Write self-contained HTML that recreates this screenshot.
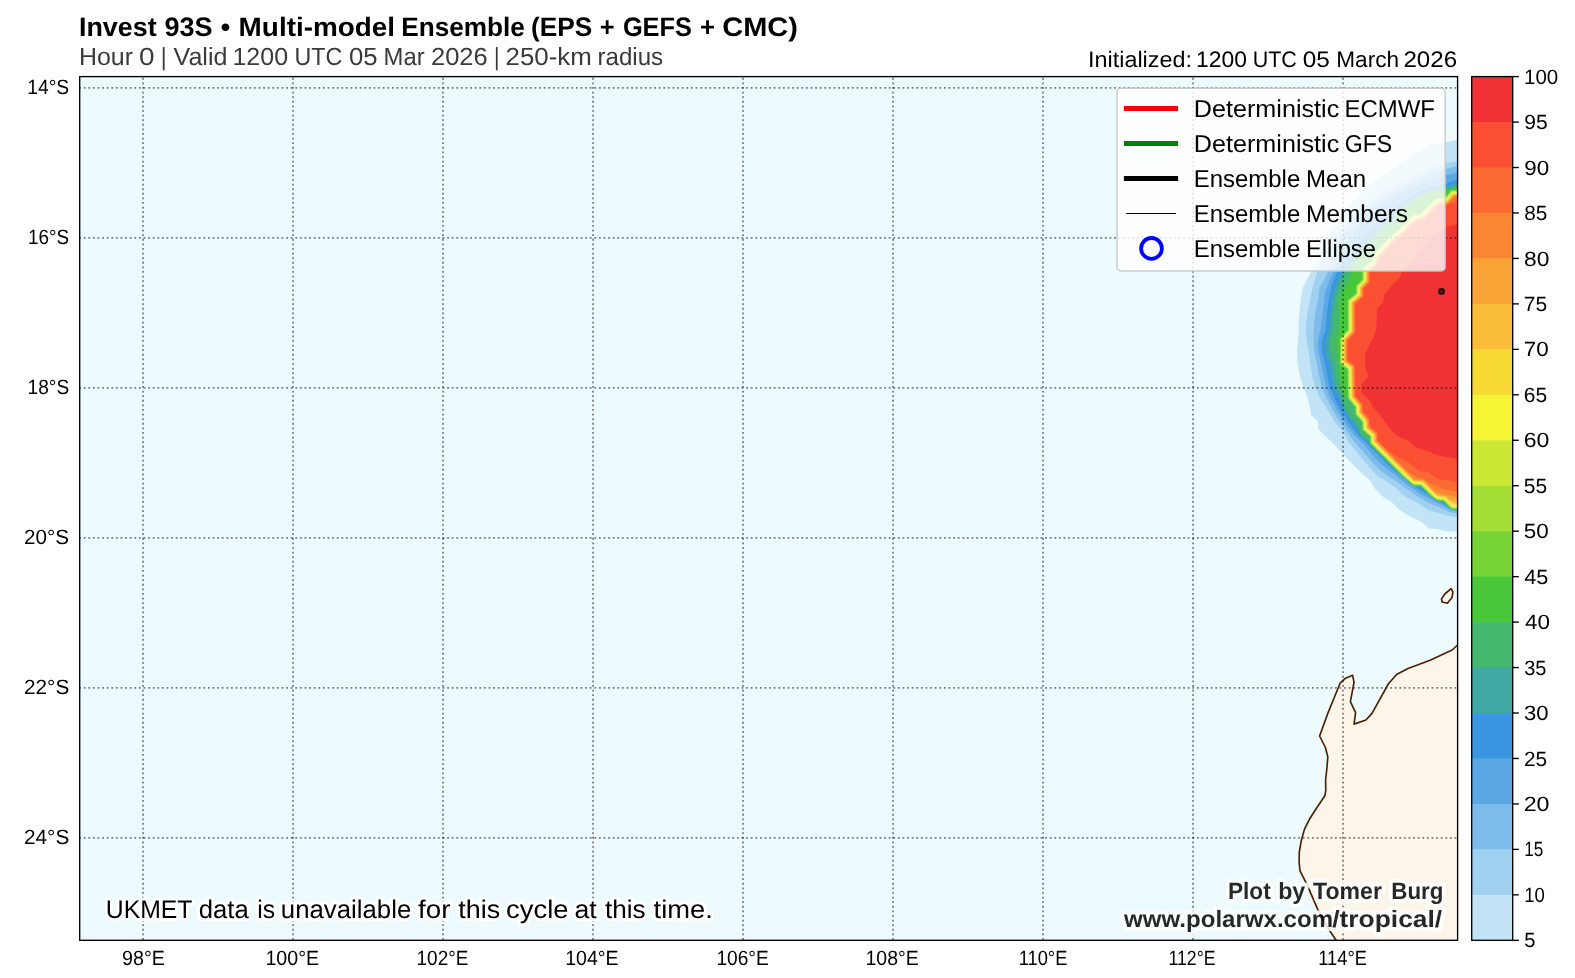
<!DOCTYPE html>
<html lang="en"><head><meta charset="utf-8"><title>Invest 93S Multi-model Ensemble</title>
<style>html,body{margin:0;padding:0;background:#fff;}body{width:1575px;height:978px;overflow:hidden;font-family:"Liberation Sans",sans-serif;}svg text{font-family:"Liberation Sans",sans-serif;}</style></head>
<body>
<svg width="1575" height="978" viewBox="0 0 1575 978" style="display:block">
<defs>
<clipPath id="mapclip"><rect x="79.7" y="76.6" width="1377.9" height="863.7"/></clipPath>
<mask id="allmask" maskUnits="userSpaceOnUse" x="0" y="0" width="1575" height="978"><rect x="0" y="0" width="1575" height="978" fill="#fff"/></mask>
</defs>
<rect x="0" y="0" width="1575" height="978" fill="#ffffff"/>
<g clip-path="url(#mapclip)">
<rect x="79.7" y="76.6" width="1377.9" height="863.7" fill="#edfafe"/>
<path d="M1475.0,640.0L1457.1,645.5L1452.1,650.0L1430.1,660.3L1408.0,668.4L1396.5,674.5L1388.3,684.0L1372.0,713.4L1365.9,720.0L1354.0,724.1L1355.6,712.6L1350.4,701.7L1354.0,682.4L1352.7,675.3L1345.0,678.6L1340.1,683.2L1327.8,713.4L1319.6,736.0L1325.4,747.5L1327.8,756.8L1327.0,767.4L1325.6,780.0L1325.8,789.8L1325.0,795.5L1316.8,807.8L1309.4,819.3L1304.5,829.1L1301.3,840.5L1299.3,852.0L1299.1,861.8L1300.0,870.8L1307.0,884.7L1317.6,909.2L1327.4,927.2L1335.6,939.5L1340.0,947.0L1475.0,947.0Z" fill="#fcf5e9" stroke="#4b2103" stroke-width="1.65" stroke-linejoin="round"/>
<path d="M1451.1,588.7L1452.9,591.8L1452.1,597.3L1447.4,603.2L1442.1,602.0L1441.5,598.9L1444.8,594.0Z" fill="#fcf5e9" stroke="#4b2103" stroke-width="1.65" stroke-linejoin="round"/>
<g shape-rendering="geometricPrecision">
<path d="M1470.0,138.0L1457.5,139.7L1445.0,142.5L1429.0,145.0L1413.0,154.0L1396.0,166.0L1372.0,183.0L1352.0,202.0L1333.0,227.0L1321.5,245.5L1310.4,272.9L1303.0,287.5L1300.8,298.7L1298.6,321.2L1298.6,330.0L1298.0,341.2L1296.9,352.5L1297.4,363.7L1299.7,375.0L1303.1,386.2L1307.6,397.5L1310.6,410.0L1311.0,414.9L1318.0,421.5L1318.4,429.6L1330.0,440.6L1343.0,453.6L1350.0,461.5L1361.2,472.7L1370.2,480.6L1374.7,488.5L1383.7,497.5L1391.6,502.0L1399.5,509.9L1408.5,515.5L1422.0,522.2L1428.7,528.4L1437.7,529.0L1445.6,531.2L1457.5,531.8L1470.0,532.0Z" fill="#c3e3f7"/>
<path d="M1470.0,160.0L1457.5,161.0L1445.4,163.3L1428.7,168.4L1406.0,178.5L1383.7,192.0L1361.0,208.9L1350.0,217.9L1335.0,237.0L1324.0,255.0L1317.1,272.9L1312.6,287.5L1307.0,315.6L1305.6,330.0L1307.0,341.2L1308.7,352.5L1310.4,363.7L1312.1,375.0L1314.9,386.2L1319.9,397.5L1327.8,410.0L1332.7,418.2L1336.0,423.9L1342.5,430.4L1349.1,442.7L1357.3,452.5L1365.4,462.4L1373.6,472.2L1380.0,477.9L1383.7,479.5L1395.0,487.4L1406.2,497.5L1417.5,503.1L1428.7,510.4L1440.0,513.2L1451.2,516.6L1457.5,517.2L1470.0,517.5Z" fill="#a0d1f1"/>
<path d="M1470.0,165.5L1457.5,166.0L1445.4,169.0L1428.7,174.0L1406.0,184.5L1383.7,198.0L1361.0,215.0L1345.0,232.0L1335.0,250.0L1327.2,272.9L1322.7,283.0L1319.4,287.5L1318.2,298.7L1314.9,315.6L1313.7,330.0L1313.7,341.2L1314.3,352.5L1317.1,363.7L1318.8,375.0L1321.6,386.2L1326.1,397.5L1332.7,410.0L1338.4,419.8L1344.2,427.2L1350.7,437.0L1357.3,445.2L1365.4,454.2L1373.6,464.0L1380.0,470.5L1390.0,477.2L1395.0,480.6L1406.2,488.5L1417.5,496.4L1428.7,503.1L1440.0,507.6L1451.2,512.7L1457.5,513.8L1470.0,514.0Z" fill="#7dbcea"/>
<path d="M1470.0,172.5L1457.5,172.9L1445.4,175.0L1428.7,180.7L1406.0,191.0L1383.7,205.0L1363.0,222.0L1349.0,240.0L1340.0,256.0L1332.9,272.9L1328.4,283.0L1325.0,293.1L1323.3,310.0L1320.5,330.0L1317.7,341.2L1318.8,352.5L1321.1,363.7L1323.3,375.0L1326.1,386.2L1330.1,397.5L1336.8,410.0L1342.5,419.0L1347.4,426.4L1354.0,434.5L1362.2,442.7L1370.3,452.5L1380.0,463.2L1383.5,466.0L1395.0,475.0L1406.2,484.0L1417.5,491.9L1428.7,498.6L1440.0,504.2L1451.2,509.9L1457.5,511.6L1470.0,512.0Z" fill="#5ba8e4"/>
<path d="M1470.0,179.3L1457.5,179.6L1445.4,184.0L1428.7,187.5L1413.0,195.0L1398.0,206.0L1383.0,219.0L1367.0,234.0L1353.0,250.0L1343.0,264.0L1336.8,272.9L1331.7,285.2L1328.9,298.7L1326.7,315.6L1325.5,330.0L1321.6,341.2L1322.2,352.5L1325.0,363.7L1327.2,375.0L1329.5,386.2L1334.0,397.5L1340.1,410.0L1344.2,414.9L1348.3,422.3L1356.4,432.9L1365.4,441.9L1373.6,450.1L1380.0,456.6L1384.0,460.5L1390.0,467.1L1395.0,470.5L1406.2,479.5L1417.5,488.5L1428.7,495.2L1440.0,502.0L1451.2,508.7L1457.5,510.1L1470.0,510.4Z" fill="#3a96e0"/>
<path d="M1445.4,186.4L1428.7,190.3L1413.0,198.0L1398.0,209.5L1384.0,222.0L1369.0,237.0L1356.0,252.0L1347.0,265.0L1341.3,272.9L1336.2,285.2L1332.9,296.5L1330.0,315.6L1329.0,330.0L1325.6,341.2L1325.6,352.5L1329.5,363.7L1331.7,375.0L1333.4,386.2L1339.0,397.5L1344.2,410.0L1349.1,418.2L1357.3,429.6L1360.5,435.4L1368.7,442.7L1369.0,443.0L1369.0,443.8L1398.3,473.2L1406.2,479.5L1415.0,486.5L1420.5,486.8L1428.9,495.3L1439.7,501.8L1443.0,502.0L1447.3,506.4L1451.2,508.7L1457.5,510.1L1470.0,510.4L1470.0,188.9L1470.0,182.8L1457.5,183.0Z" fill="#3fa8a2"/>
<path d="M1445.4,189.7L1428.7,192.0L1413.0,200.0L1398.5,211.5L1386.0,224.0L1372.0,239.0L1359.5,254.0L1350.5,266.5L1345.2,272.9L1339.6,285.2L1336.2,296.5L1333.4,315.6L1332.9,330.0L1329.5,341.2L1330.0,352.5L1334.0,363.7L1335.7,375.0L1337.4,386.2L1342.4,397.5L1346.6,410.0L1351.5,416.5L1358.9,426.4L1360.5,433.7L1369.4,440.4L1369.4,443.7L1401.2,475.5L1406.2,479.5L1414.5,486.1L1420.6,486.4L1430.3,496.2L1438.9,501.4L1443.1,501.6L1448.8,507.2L1451.2,508.7L1457.5,510.1L1470.0,510.1L1470.0,189.3L1470.0,188.9L1470.0,186.2L1457.5,186.4Z" fill="#45b870"/>
<path d="M1445.4,191.0L1428.7,193.1L1413.0,202.0L1399.5,213.4L1398.4,220.0L1395.0,223.4L1378.1,239.1L1364.6,253.7L1354.0,265.0L1352.0,272.9L1347.5,284.0L1341.0,294.0L1339.3,305.0L1339.0,330.0L1336.2,341.2L1337.4,352.5L1338.5,363.7L1339.6,375.0L1341.3,386.2L1346.0,398.0L1348.8,399.9L1353.7,405.9L1354.5,408.0L1354.9,409.1L1354.9,414.2L1361.8,422.2L1362.3,430.3L1369.8,436.8L1369.8,443.5L1404.1,477.8L1406.2,479.5L1413.9,485.7L1420.8,486.0L1431.7,497.0L1438.2,500.9L1443.3,501.2L1450.2,508.1L1451.2,508.7L1454.4,509.4L1457.4,509.7L1470.0,509.7L1470.0,189.7L1470.0,189.3L1470.0,188.9L1470.0,187.2L1457.5,187.5Z" fill="#48c73a"/>
<path d="M1445.1,197.5L1435.9,198.2L1427.1,206.3L1420.4,213.4L1413.0,214.8L1405.4,221.9L1399.1,228.6L1388.7,237.8L1381.4,245.5L1373.9,253.7L1371.8,260.7L1364.0,266.9L1362.4,270.5L1362.4,279.4L1356.2,285.9L1356.2,293.2L1347.7,300.5L1348.0,329.6L1344.8,333.0L1340.2,338.2L1340.2,363.7L1347.5,369.3L1348.1,398.3L1355.4,407.3L1355.4,414.0L1362.3,422.0L1362.8,430.1L1370.3,436.6L1370.3,443.3L1404.4,477.4L1406.5,479.1L1414.1,485.2L1421.0,485.5L1432.0,496.6L1438.3,500.4L1443.5,500.7L1450.5,507.7L1451.4,508.2L1454.5,508.9L1457.4,509.2L1469.5,509.2L1469.5,190.2L1451.4,190.2Z" fill="#8cda54"/>
<path d="M1451.7,190.9L1445.5,198.2L1436.2,198.8L1427.5,206.8L1420.7,214.0L1413.3,215.4L1405.9,222.4L1399.6,229.1L1389.2,238.3L1381.9,246.0L1374.6,254.0L1372.4,261.1L1364.6,267.4L1363.1,270.7L1363.1,279.7L1356.9,286.2L1356.9,293.5L1348.4,300.8L1348.7,329.9L1345.3,333.5L1340.9,338.4L1340.9,363.3L1348.2,369.0L1348.8,398.0L1356.1,407.0L1356.1,413.8L1362.9,421.7L1363.4,429.7L1371.0,436.3L1371.0,443.0L1406.8,478.9L1413.9,484.5L1421.3,484.9L1433.3,496.9L1437.9,499.7L1443.8,500.1L1451.7,507.9L1452.1,508.0L1457.4,508.5L1469.1,508.5L1469.1,190.9Z" fill="#b2e453"/>
<path d="M1452.0,191.6L1445.8,198.8L1436.5,199.5L1428.0,207.3L1421.1,214.7L1413.6,216.1L1406.4,222.9L1400.0,229.6L1389.6,238.8L1382.4,246.5L1375.2,254.4L1373.0,261.5L1365.1,267.8L1363.8,270.8L1363.8,280.0L1357.6,286.5L1357.6,293.8L1349.1,301.1L1349.4,330.2L1345.8,334.0L1341.6,338.7L1341.6,363.0L1348.9,368.6L1349.5,397.8L1356.8,406.8L1356.8,413.5L1363.6,421.4L1364.1,429.4L1371.7,436.0L1371.7,442.7L1409.2,480.2L1413.6,483.7L1421.6,484.2L1434.6,497.3L1437.5,499.0L1444.1,499.4L1452.0,507.3L1457.5,507.8L1468.7,507.8L1468.7,191.6Z" fill="#d4eb52"/>
<path d="M1452.4,192.4L1446.2,199.6L1436.8,200.3L1428.6,207.9L1421.5,215.4L1414.0,216.8L1407.0,223.5L1400.6,230.2L1390.2,239.4L1383.0,247.0L1375.9,254.8L1373.7,262.0L1365.8,268.3L1364.6,271.0L1364.6,280.3L1358.4,286.8L1358.4,294.2L1349.9,301.5L1350.2,330.5L1346.4,334.5L1342.4,339.0L1342.4,362.6L1349.7,368.2L1350.3,397.5L1357.6,406.5L1357.6,413.2L1364.4,421.1L1364.9,429.0L1372.5,435.6L1372.5,442.4L1412.2,482.1L1413.2,482.9L1422.0,483.4L1436.3,497.8L1436.8,498.1L1444.5,498.6L1452.4,506.5L1457.5,507.0L1468.3,507.0L1468.3,192.4Z" fill="#f6f654"/>
<path d="M1469.2,193.2L1452.8,193.2L1446.6,200.4L1437.1,201.1L1429.2,208.5L1421.9,216.1L1414.4,217.5L1407.6,224.1L1401.2,230.8L1390.8,240.0L1383.6,247.5L1376.6,255.2L1374.4,262.5L1366.5,268.8L1365.4,271.2L1365.4,280.6L1359.2,287.1L1359.2,294.6L1350.7,301.9L1351.0,330.8L1347.0,335.0L1343.2,339.3L1343.2,362.2L1350.5,367.8L1351.1,397.2L1358.4,406.2L1358.4,412.9L1365.2,420.8L1365.7,428.6L1373.3,435.2L1373.3,442.1L1413.3,482.1L1422.4,482.6L1437.0,497.3L1444.9,497.8L1452.8,505.7L1457.5,506.2L1469.2,506.2Z" fill="#f7df53"/>
<path d="M1453.2,194.1L1447.0,201.2L1437.5,202.0L1429.8,209.1L1422.4,217.0L1414.8,218.4L1408.2,224.7L1401.8,231.4L1391.4,240.6L1384.2,248.2L1377.4,255.7L1375.2,263.0L1367.2,269.4L1366.3,271.4L1366.3,281.0L1360.1,287.5L1360.1,295.0L1351.6,302.3L1351.9,331.2L1347.7,335.7L1344.1,339.6L1344.1,361.8L1351.4,367.3L1352.0,396.9L1359.3,405.9L1359.3,412.6L1366.1,420.4L1366.6,428.2L1374.2,434.8L1374.2,441.7L1413.7,481.2L1422.7,481.7L1435.9,495.0L1438.0,495.0L1440.3,496.6L1445.2,496.9L1451.0,502.7L1457.5,504.2L1468.3,504.2L1468.3,194.1Z" fill="#f9bd37"/>
<path d="M1453.6,195.0L1447.5,202.1L1437.9,202.8L1430.4,209.7L1422.8,217.8L1415.2,219.2L1408.8,225.3L1402.4,232.1L1392.0,241.3L1384.9,248.8L1378.2,256.1L1376.0,263.5L1367.9,269.9L1367.2,271.6L1367.2,281.3L1361.0,287.8L1361.0,295.4L1352.5,302.7L1352.8,331.5L1348.3,336.3L1345.0,340.0L1345.0,361.3L1352.3,366.9L1352.9,396.6L1360.2,405.6L1360.2,412.2L1366.9,420.1L1367.4,427.8L1375.1,434.4L1375.1,441.3L1414.1,480.4L1423.1,480.9L1437.5,495.3L1438.2,495.6L1445.6,496.1L1448.8,499.2L1457.5,502.0L1467.4,502.0L1467.4,195.0Z" fill="#f9a236"/>
<path d="M1454.0,195.9L1447.9,203.0L1438.3,203.7L1431.1,210.4L1423.3,218.6L1415.7,220.0L1409.5,226.0L1403.0,232.7L1392.6,241.9L1385.6,249.4L1379.0,256.6L1376.7,264.1L1368.7,270.5L1368.1,271.7L1368.1,281.7L1361.9,288.2L1361.9,295.8L1353.4,303.1L1353.7,331.9L1349.0,336.9L1345.9,340.3L1345.9,360.9L1353.2,366.4L1353.8,396.2L1361.1,405.3L1361.1,411.9L1367.8,419.7L1368.3,427.3L1376.0,434.0L1376.0,441.0L1414.3,479.3L1414.6,479.5L1423.5,480.0L1434.7,491.2L1444.5,494.7L1457.5,497.5L1466.5,497.5L1466.5,195.9Z" fill="#fa8633"/>
<path d="M1454.4,196.8L1448.3,203.9L1438.7,204.6L1431.7,211.0L1423.7,219.5L1416.1,220.9L1410.1,226.6L1403.7,233.4L1393.3,242.6L1386.2,250.0L1379.8,257.0L1377.5,264.6L1369.4,271.1L1369.0,271.9L1369.0,282.1L1362.8,288.6L1362.8,296.2L1354.3,303.5L1354.6,332.2L1349.6,337.5L1346.8,340.7L1346.8,360.4L1354.1,366.0L1354.7,395.9L1362.0,404.9L1362.0,411.6L1368.7,419.3L1369.2,426.9L1376.9,433.6L1376.9,440.6L1409.1,472.8L1410.7,473.9L1420.8,478.9L1423.9,479.1L1426.6,481.8L1433.2,485.1L1444.5,489.6L1457.5,491.9L1465.6,491.9L1465.6,196.8Z" fill="#fb6a33"/>
<path d="M1448.8,204.7L1439.0,205.4L1432.3,211.7L1424.2,220.3L1416.5,221.7L1410.8,227.2L1404.3,234.0L1393.9,243.2L1386.9,250.6L1380.6,257.5L1378.3,265.1L1370.1,271.6L1369.9,272.1L1369.9,282.4L1363.7,288.9L1363.7,296.6L1355.2,303.9L1355.5,332.6L1350.3,338.1L1347.7,341.0L1347.7,360.0L1354.9,365.5L1355.6,395.6L1362.9,404.6L1362.9,411.2L1369.6,419.0L1370.0,426.5L1377.8,433.2L1377.8,440.2L1389.0,451.4L1399.5,458.1L1408.5,462.6L1419.7,471.6L1428.7,472.2L1437.7,478.9L1449.0,480.6L1457.5,482.9L1464.7,482.9L1464.7,203.0L1457.5,203.0L1449.7,203.6Z" fill="#fb4f34"/>
<path d="M1457.5,224.6L1445.4,226.9L1443.4,227.9L1428.7,240.2L1417.5,252.6L1410.7,262.7L1404.0,269.5L1401.7,272.3L1400.0,277.4L1392.7,284.7L1384.3,294.2L1383.2,302.1L1377.0,308.9L1376.1,330.0L1373.6,336.7L1368.0,348.0L1365.2,353.6L1365.2,367.1L1366.9,372.7L1368.6,376.1L1361.8,384.0L1361.2,392.4L1370.2,400.9L1372.5,406.5L1378.7,413.2L1383.7,420.0L1389.4,427.9L1397.2,435.7L1402.9,438.5L1407.4,440.1L1415.2,446.9L1428.7,451.4L1440.0,455.9L1457.5,458.7L1464.7,458.9L1464.7,224.5Z" fill="#f03235"/>
</g>
<line x1="143.05" y1="76.6" x2="143.05" y2="940.3" stroke="#000" stroke-opacity="0.5" stroke-width="1.8" stroke-dasharray="1.8 2.8" fill="none" stroke-dashoffset="-1.25"/>
<line x1="293.05" y1="76.6" x2="293.05" y2="940.3" stroke="#000" stroke-opacity="0.5" stroke-width="1.8" stroke-dasharray="1.8 2.8" fill="none" stroke-dashoffset="-1.25"/>
<line x1="443.05" y1="76.6" x2="443.05" y2="940.3" stroke="#000" stroke-opacity="0.5" stroke-width="1.8" stroke-dasharray="1.8 2.8" fill="none" stroke-dashoffset="-1.25"/>
<line x1="593.05" y1="76.6" x2="593.05" y2="940.3" stroke="#000" stroke-opacity="0.5" stroke-width="1.8" stroke-dasharray="1.8 2.8" fill="none" stroke-dashoffset="-1.25"/>
<line x1="743.05" y1="76.6" x2="743.05" y2="940.3" stroke="#000" stroke-opacity="0.5" stroke-width="1.8" stroke-dasharray="1.8 2.8" fill="none" stroke-dashoffset="-1.25"/>
<line x1="893.05" y1="76.6" x2="893.05" y2="940.3" stroke="#000" stroke-opacity="0.5" stroke-width="1.8" stroke-dasharray="1.8 2.8" fill="none" stroke-dashoffset="-1.25"/>
<line x1="1043.05" y1="76.6" x2="1043.05" y2="940.3" stroke="#000" stroke-opacity="0.5" stroke-width="1.8" stroke-dasharray="1.8 2.8" fill="none" stroke-dashoffset="-1.25"/>
<line x1="1193.05" y1="76.6" x2="1193.05" y2="940.3" stroke="#000" stroke-opacity="0.5" stroke-width="1.8" stroke-dasharray="1.8 2.8" fill="none" stroke-dashoffset="-1.25"/>
<line x1="1343.05" y1="76.6" x2="1343.05" y2="940.3" stroke="#000" stroke-opacity="0.5" stroke-width="1.8" stroke-dasharray="1.8 2.8" fill="none" stroke-dashoffset="-1.25"/>
<line x1="79.7" y1="87.90" x2="1457.6" y2="87.90" stroke="#000" stroke-opacity="0.5" stroke-width="1.8" stroke-dasharray="1.8 2.8" fill="none" stroke-dashoffset="0.55"/>
<line x1="79.7" y1="237.90" x2="1457.6" y2="237.90" stroke="#000" stroke-opacity="0.5" stroke-width="1.8" stroke-dasharray="1.8 2.8" fill="none" stroke-dashoffset="0.55"/>
<line x1="79.7" y1="387.90" x2="1457.6" y2="387.90" stroke="#000" stroke-opacity="0.5" stroke-width="1.8" stroke-dasharray="1.8 2.8" fill="none" stroke-dashoffset="0.55"/>
<line x1="79.7" y1="537.90" x2="1457.6" y2="537.90" stroke="#000" stroke-opacity="0.5" stroke-width="1.8" stroke-dasharray="1.8 2.8" fill="none" stroke-dashoffset="0.55"/>
<line x1="79.7" y1="687.90" x2="1457.6" y2="687.90" stroke="#000" stroke-opacity="0.5" stroke-width="1.8" stroke-dasharray="1.8 2.8" fill="none" stroke-dashoffset="0.55"/>
<line x1="79.7" y1="837.90" x2="1457.6" y2="837.90" stroke="#000" stroke-opacity="0.5" stroke-width="1.8" stroke-dasharray="1.8 2.8" fill="none" stroke-dashoffset="0.55"/>
<circle cx="1441.5" cy="291.4" r="2.6" fill="#000" fill-opacity="0.57" stroke="#000" stroke-opacity="0.8" stroke-width="1.7"/>
</g>
<rect x="1117.0" y="88.2" width="328.2" height="182.7" rx="4" ry="4" fill="#ffffff" fill-opacity="0.8" stroke="#c8c8c8" stroke-opacity="0.92" stroke-width="1.5"/>
<line x1="1123.9" y1="108.4" x2="1178.1" y2="108.4" stroke="#ff0000" stroke-width="5"/>
<line x1="1123.9" y1="143.6" x2="1178.1" y2="143.6" stroke="#008000" stroke-width="5"/>
<line x1="1123.9" y1="178.6" x2="1178.1" y2="178.6" stroke="#000000" stroke-width="5"/>
<line x1="1126" y1="213.5" x2="1176" y2="213.5" stroke="#000000" stroke-width="1.1"/>
<line x1="1124" y1="248.4" x2="1178" y2="248.4" stroke="#ffffff" stroke-width="1.5"/>
<circle cx="1151.5" cy="248.4" r="10.4" fill="#ffffff" stroke="#0000ff" stroke-width="3.8"/>
<rect x="79.7" y="76.6" width="1377.9" height="863.7" fill="none" stroke="#000" stroke-width="1.35"/>
<rect x="1471.7" y="76.60" width="41.0" height="45.96" fill="#f03235"/>
<rect x="1471.7" y="122.06" width="41.0" height="45.96" fill="#fb4f34"/>
<rect x="1471.7" y="167.52" width="41.0" height="45.96" fill="#fb6a33"/>
<rect x="1471.7" y="212.97" width="41.0" height="45.96" fill="#fa8633"/>
<rect x="1471.7" y="258.43" width="41.0" height="45.96" fill="#f9a236"/>
<rect x="1471.7" y="303.89" width="41.0" height="45.96" fill="#f9bd37"/>
<rect x="1471.7" y="349.35" width="41.0" height="45.96" fill="#f6d935"/>
<rect x="1471.7" y="394.81" width="41.0" height="45.96" fill="#f5f536"/>
<rect x="1471.7" y="440.26" width="41.0" height="45.96" fill="#cce834"/>
<rect x="1471.7" y="485.72" width="41.0" height="45.96" fill="#a5df35"/>
<rect x="1471.7" y="531.18" width="41.0" height="45.96" fill="#78d336"/>
<rect x="1471.7" y="576.64" width="41.0" height="45.96" fill="#48c73a"/>
<rect x="1471.7" y="622.09" width="41.0" height="45.96" fill="#45b870"/>
<rect x="1471.7" y="667.55" width="41.0" height="45.96" fill="#3fa8a2"/>
<rect x="1471.7" y="713.01" width="41.0" height="45.96" fill="#3a96e0"/>
<rect x="1471.7" y="758.47" width="41.0" height="45.96" fill="#5ba8e4"/>
<rect x="1471.7" y="803.93" width="41.0" height="45.96" fill="#7dbcea"/>
<rect x="1471.7" y="849.38" width="41.0" height="45.96" fill="#a0d1f1"/>
<rect x="1471.7" y="894.84" width="41.0" height="45.96" fill="#c3e3f7"/>
<rect x="1471.7" y="76.6" width="41.0" height="863.7" fill="none" stroke="#000" stroke-width="1.35"/>
<line x1="1512.7" y1="76.60" x2="1518.9" y2="76.60" stroke="#000" stroke-width="1.35"/>
<line x1="1512.7" y1="122.06" x2="1518.9" y2="122.06" stroke="#000" stroke-width="1.35"/>
<line x1="1512.7" y1="167.52" x2="1518.9" y2="167.52" stroke="#000" stroke-width="1.35"/>
<line x1="1512.7" y1="212.97" x2="1518.9" y2="212.97" stroke="#000" stroke-width="1.35"/>
<line x1="1512.7" y1="258.43" x2="1518.9" y2="258.43" stroke="#000" stroke-width="1.35"/>
<line x1="1512.7" y1="303.89" x2="1518.9" y2="303.89" stroke="#000" stroke-width="1.35"/>
<line x1="1512.7" y1="349.35" x2="1518.9" y2="349.35" stroke="#000" stroke-width="1.35"/>
<line x1="1512.7" y1="394.81" x2="1518.9" y2="394.81" stroke="#000" stroke-width="1.35"/>
<line x1="1512.7" y1="440.26" x2="1518.9" y2="440.26" stroke="#000" stroke-width="1.35"/>
<line x1="1512.7" y1="485.72" x2="1518.9" y2="485.72" stroke="#000" stroke-width="1.35"/>
<line x1="1512.7" y1="531.18" x2="1518.9" y2="531.18" stroke="#000" stroke-width="1.35"/>
<line x1="1512.7" y1="576.64" x2="1518.9" y2="576.64" stroke="#000" stroke-width="1.35"/>
<line x1="1512.7" y1="622.09" x2="1518.9" y2="622.09" stroke="#000" stroke-width="1.35"/>
<line x1="1512.7" y1="667.55" x2="1518.9" y2="667.55" stroke="#000" stroke-width="1.35"/>
<line x1="1512.7" y1="713.01" x2="1518.9" y2="713.01" stroke="#000" stroke-width="1.35"/>
<line x1="1512.7" y1="758.47" x2="1518.9" y2="758.47" stroke="#000" stroke-width="1.35"/>
<line x1="1512.7" y1="803.93" x2="1518.9" y2="803.93" stroke="#000" stroke-width="1.35"/>
<line x1="1512.7" y1="849.38" x2="1518.9" y2="849.38" stroke="#000" stroke-width="1.35"/>
<line x1="1512.7" y1="894.84" x2="1518.9" y2="894.84" stroke="#000" stroke-width="1.35"/>
<line x1="1512.7" y1="940.30" x2="1518.9" y2="940.30" stroke="#000" stroke-width="1.35"/>
<g font-family="'Liberation Sans', sans-serif" text-rendering="geometricPrecision" mask="url(#allmask)">
<text x="79.00" y="35.60" font-size="26.7" font-weight="bold" textLength="77.63" lengthAdjust="spacingAndGlyphs" fill="#000">Invest</text><text x="164.46" y="35.60" font-size="26.7" font-weight="bold" textLength="48.09" lengthAdjust="spacingAndGlyphs" fill="#000">93S</text><text x="220.85" y="35.60" font-size="26.7" font-weight="bold" textLength="9.40" lengthAdjust="spacingAndGlyphs" fill="#000">•</text><text x="238.63" y="35.60" font-size="26.7" font-weight="bold" textLength="156.46" lengthAdjust="spacingAndGlyphs" fill="#000">Multi-model</text><text x="401.23" y="35.60" font-size="26.7" font-weight="bold" textLength="123.58" lengthAdjust="spacingAndGlyphs" fill="#000">Ensemble</text><text x="531.05" y="35.60" font-size="26.7" font-weight="bold" textLength="61.23" lengthAdjust="spacingAndGlyphs" fill="#000">(EPS</text><text x="599.82" y="35.60" font-size="26.7" font-weight="bold" textLength="14.85" lengthAdjust="spacingAndGlyphs" fill="#000">+</text><text x="622.90" y="35.60" font-size="26.7" font-weight="bold" textLength="69.03" lengthAdjust="spacingAndGlyphs" fill="#000">GEFS</text><text x="699.95" y="35.60" font-size="26.7" font-weight="bold" textLength="15.04" lengthAdjust="spacingAndGlyphs" fill="#000">+</text><text x="722.28" y="35.60" font-size="26.7" font-weight="bold" textLength="75.66" lengthAdjust="spacingAndGlyphs" fill="#000">CMC)</text><text x="78.95" y="64.50" font-size="24.8" font-weight="normal" textLength="54.07" lengthAdjust="spacingAndGlyphs" fill="#3a3a3a">Hour</text><text x="139.14" y="64.50" font-size="24.8" font-weight="normal" textLength="15.52" lengthAdjust="spacingAndGlyphs" fill="#3a3a3a">0</text><text x="160.87" y="64.50" font-size="24.8" font-weight="normal" textLength="5.89" lengthAdjust="spacingAndGlyphs" fill="#3a3a3a">|</text><text x="173.54" y="64.50" font-size="24.8" font-weight="normal" textLength="53.95" lengthAdjust="spacingAndGlyphs" fill="#3a3a3a">Valid</text><text x="232.49" y="64.50" font-size="24.8" font-weight="normal" textLength="55.55" lengthAdjust="spacingAndGlyphs" fill="#3a3a3a">1200</text><text x="294.53" y="64.50" font-size="24.8" font-weight="normal" textLength="47.77" lengthAdjust="spacingAndGlyphs" fill="#3a3a3a">UTC</text><text x="349.05" y="64.50" font-size="24.8" font-weight="normal" textLength="28.66" lengthAdjust="spacingAndGlyphs" fill="#3a3a3a">05</text><text x="383.61" y="64.50" font-size="24.8" font-weight="normal" textLength="41.04" lengthAdjust="spacingAndGlyphs" fill="#3a3a3a">Mar</text><text x="430.98" y="64.50" font-size="24.8" font-weight="normal" textLength="56.78" lengthAdjust="spacingAndGlyphs" fill="#3a3a3a">2026</text><text x="493.94" y="64.50" font-size="24.8" font-weight="normal" textLength="5.52" lengthAdjust="spacingAndGlyphs" fill="#3a3a3a">|</text><text x="505.59" y="64.50" font-size="24.8" font-weight="normal" textLength="86.22" lengthAdjust="spacingAndGlyphs" fill="#3a3a3a">250-km</text><text x="597.48" y="64.50" font-size="24.8" font-weight="normal" textLength="65.61" lengthAdjust="spacingAndGlyphs" fill="#3a3a3a">radius</text><text x="1088.13" y="66.90" font-size="22.4" font-weight="normal" textLength="103.81" lengthAdjust="spacingAndGlyphs" fill="#000">Initialized:</text><text x="1196.11" y="66.90" font-size="22.4" font-weight="normal" textLength="50.85" lengthAdjust="spacingAndGlyphs" fill="#000">1200</text><text x="1252.73" y="66.90" font-size="22.4" font-weight="normal" textLength="44.14" lengthAdjust="spacingAndGlyphs" fill="#000">UTC</text><text x="1302.83" y="66.90" font-size="22.4" font-weight="normal" textLength="27.06" lengthAdjust="spacingAndGlyphs" fill="#000">05</text><text x="1336.28" y="66.90" font-size="22.4" font-weight="normal" textLength="62.83" lengthAdjust="spacingAndGlyphs" fill="#000">March</text><text x="1403.46" y="66.90" font-size="22.4" font-weight="normal" textLength="53.64" lengthAdjust="spacingAndGlyphs" fill="#000">2026</text><text x="27.27" y="93.50" font-size="20.6" font-weight="normal" textLength="41.90" lengthAdjust="spacingAndGlyphs" fill="#000">14°S</text><text x="27.93" y="243.50" font-size="20.6" font-weight="normal" textLength="41.11" lengthAdjust="spacingAndGlyphs" fill="#000">16°S</text><text x="27.58" y="393.50" font-size="20.6" font-weight="normal" textLength="41.58" lengthAdjust="spacingAndGlyphs" fill="#000">18°S</text><text x="24.14" y="543.50" font-size="20.6" font-weight="normal" textLength="44.93" lengthAdjust="spacingAndGlyphs" fill="#000">20°S</text><text x="24.07" y="693.50" font-size="20.6" font-weight="normal" textLength="45.19" lengthAdjust="spacingAndGlyphs" fill="#000">22°S</text><text x="24.07" y="843.50" font-size="20.6" font-weight="normal" textLength="45.19" lengthAdjust="spacingAndGlyphs" fill="#000">24°S</text><text x="122.08" y="964.50" font-size="20.6" font-weight="normal" textLength="42.88" lengthAdjust="spacingAndGlyphs" fill="#000">98°E</text><text x="265.45" y="964.50" font-size="20.6" font-weight="normal" textLength="53.62" lengthAdjust="spacingAndGlyphs" fill="#000">100°E</text><text x="416.57" y="964.50" font-size="20.6" font-weight="normal" textLength="51.95" lengthAdjust="spacingAndGlyphs" fill="#000">102°E</text><text x="565.18" y="964.50" font-size="20.6" font-weight="normal" textLength="53.44" lengthAdjust="spacingAndGlyphs" fill="#000">104°E</text><text x="716.42" y="964.50" font-size="20.6" font-weight="normal" textLength="52.34" lengthAdjust="spacingAndGlyphs" fill="#000">106°E</text><text x="865.53" y="964.50" font-size="20.6" font-weight="normal" textLength="53.23" lengthAdjust="spacingAndGlyphs" fill="#000">108°E</text><text x="1018.67" y="964.50" font-size="20.6" font-weight="normal" textLength="48.70" lengthAdjust="spacingAndGlyphs" fill="#000">110°E</text><text x="1168.54" y="964.50" font-size="20.6" font-weight="normal" textLength="46.95" lengthAdjust="spacingAndGlyphs" fill="#000">112°E</text><text x="1318.34" y="964.50" font-size="20.6" font-weight="normal" textLength="48.51" lengthAdjust="spacingAndGlyphs" fill="#000">114°E</text><text x="1524.03" y="83.70" font-size="20.6" font-weight="normal" textLength="34.20" lengthAdjust="spacingAndGlyphs" fill="#000">100</text><text x="1524.27" y="129.16" font-size="20.6" font-weight="normal" textLength="23.39" lengthAdjust="spacingAndGlyphs" fill="#000">95</text><text x="1524.25" y="174.62" font-size="20.6" font-weight="normal" textLength="24.88" lengthAdjust="spacingAndGlyphs" fill="#000">90</text><text x="1524.16" y="220.07" font-size="20.6" font-weight="normal" textLength="23.09" lengthAdjust="spacingAndGlyphs" fill="#000">85</text><text x="1524.05" y="265.53" font-size="20.6" font-weight="normal" textLength="25.32" lengthAdjust="spacingAndGlyphs" fill="#000">80</text><text x="1523.83" y="310.99" font-size="20.6" font-weight="normal" textLength="23.32" lengthAdjust="spacingAndGlyphs" fill="#000">75</text><text x="1523.73" y="356.45" font-size="20.6" font-weight="normal" textLength="24.96" lengthAdjust="spacingAndGlyphs" fill="#000">70</text><text x="1523.83" y="401.91" font-size="20.6" font-weight="normal" textLength="23.32" lengthAdjust="spacingAndGlyphs" fill="#000">65</text><text x="1523.75" y="447.36" font-size="20.6" font-weight="normal" textLength="25.66" lengthAdjust="spacingAndGlyphs" fill="#000">60</text><text x="1523.84" y="492.82" font-size="20.6" font-weight="normal" textLength="23.32" lengthAdjust="spacingAndGlyphs" fill="#000">55</text><text x="1523.73" y="538.28" font-size="20.6" font-weight="normal" textLength="24.96" lengthAdjust="spacingAndGlyphs" fill="#000">50</text><text x="1524.31" y="583.74" font-size="20.6" font-weight="normal" textLength="24.15" lengthAdjust="spacingAndGlyphs" fill="#000">45</text><text x="1525.02" y="629.19" font-size="20.6" font-weight="normal" textLength="24.94" lengthAdjust="spacingAndGlyphs" fill="#000">40</text><text x="1524.17" y="674.65" font-size="20.6" font-weight="normal" textLength="22.18" lengthAdjust="spacingAndGlyphs" fill="#000">35</text><text x="1523.99" y="720.11" font-size="20.6" font-weight="normal" textLength="24.59" lengthAdjust="spacingAndGlyphs" fill="#000">30</text><text x="1524.02" y="765.57" font-size="20.6" font-weight="normal" textLength="23.16" lengthAdjust="spacingAndGlyphs" fill="#000">25</text><text x="1523.69" y="811.03" font-size="20.6" font-weight="normal" textLength="25.78" lengthAdjust="spacingAndGlyphs" fill="#000">20</text><text x="1524.29" y="856.48" font-size="20.6" font-weight="normal" textLength="18.99" lengthAdjust="spacingAndGlyphs" fill="#000">15</text><text x="1524.13" y="901.94" font-size="20.6" font-weight="normal" textLength="20.63" lengthAdjust="spacingAndGlyphs" fill="#000">10</text><text x="1524.30" y="947.40" font-size="20.6" font-weight="normal" textLength="11.22" lengthAdjust="spacingAndGlyphs" fill="#000">5</text><text x="1193.83" y="116.80" font-size="24.4" font-weight="normal" textLength="145.42" lengthAdjust="spacingAndGlyphs" fill="#000">Deterministic</text><text x="1344.49" y="116.80" font-size="24.4" font-weight="normal" textLength="90.44" lengthAdjust="spacingAndGlyphs" fill="#000">ECMWF</text><text x="1193.83" y="151.90" font-size="24.4" font-weight="normal" textLength="145.42" lengthAdjust="spacingAndGlyphs" fill="#000">Deterministic</text><text x="1344.77" y="151.90" font-size="24.4" font-weight="normal" textLength="47.48" lengthAdjust="spacingAndGlyphs" fill="#000">GFS</text><text x="1193.82" y="187.00" font-size="24.4" font-weight="normal" textLength="106.43" lengthAdjust="spacingAndGlyphs" fill="#000">Ensemble</text><text x="1306.06" y="187.00" font-size="24.4" font-weight="normal" textLength="60.13" lengthAdjust="spacingAndGlyphs" fill="#000">Mean</text><text x="1193.82" y="222.10" font-size="24.4" font-weight="normal" textLength="106.43" lengthAdjust="spacingAndGlyphs" fill="#000">Ensemble</text><text x="1306.04" y="222.10" font-size="24.4" font-weight="normal" textLength="101.87" lengthAdjust="spacingAndGlyphs" fill="#000">Members</text><text x="1193.82" y="257.20" font-size="24.4" font-weight="normal" textLength="106.43" lengthAdjust="spacingAndGlyphs" fill="#000">Ensemble</text><text x="1306.04" y="257.20" font-size="24.4" font-weight="normal" textLength="69.86" lengthAdjust="spacingAndGlyphs" fill="#000">Ellipse</text>
<text x="105.77" y="918.00" font-size="25.5" font-weight="normal" textLength="86.62" lengthAdjust="spacingAndGlyphs" fill="none" stroke="#fff" stroke-width="6.0" stroke-linejoin="round" stroke-opacity="1">UKMET</text><text x="198.75" y="918.00" font-size="25.5" font-weight="normal" textLength="49.97" lengthAdjust="spacingAndGlyphs" fill="none" stroke="#fff" stroke-width="6.0" stroke-linejoin="round" stroke-opacity="1">data</text><text x="257.18" y="918.00" font-size="25.5" font-weight="normal" textLength="17.87" lengthAdjust="spacingAndGlyphs" fill="none" stroke="#fff" stroke-width="6.0" stroke-linejoin="round" stroke-opacity="1">is</text><text x="280.84" y="918.00" font-size="25.5" font-weight="normal" textLength="130.45" lengthAdjust="spacingAndGlyphs" fill="none" stroke="#fff" stroke-width="6.0" stroke-linejoin="round" stroke-opacity="1">unavailable</text><text x="418.07" y="918.00" font-size="25.5" font-weight="normal" textLength="32.37" lengthAdjust="spacingAndGlyphs" fill="none" stroke="#fff" stroke-width="6.0" stroke-linejoin="round" stroke-opacity="1">for</text><text x="458.27" y="918.00" font-size="25.5" font-weight="normal" textLength="41.87" lengthAdjust="spacingAndGlyphs" fill="none" stroke="#fff" stroke-width="6.0" stroke-linejoin="round" stroke-opacity="1">this</text><text x="506.06" y="918.00" font-size="25.5" font-weight="normal" textLength="62.43" lengthAdjust="spacingAndGlyphs" fill="none" stroke="#fff" stroke-width="6.0" stroke-linejoin="round" stroke-opacity="1">cycle</text><text x="574.50" y="918.00" font-size="25.5" font-weight="normal" textLength="22.27" lengthAdjust="spacingAndGlyphs" fill="none" stroke="#fff" stroke-width="6.0" stroke-linejoin="round" stroke-opacity="1">at</text><text x="605.02" y="918.00" font-size="25.5" font-weight="normal" textLength="40.63" lengthAdjust="spacingAndGlyphs" fill="none" stroke="#fff" stroke-width="6.0" stroke-linejoin="round" stroke-opacity="1">this</text><text x="653.58" y="918.00" font-size="25.5" font-weight="normal" textLength="59.20" lengthAdjust="spacingAndGlyphs" fill="none" stroke="#fff" stroke-width="6.0" stroke-linejoin="round" stroke-opacity="1">time.</text><text x="105.77" y="918.00" font-size="25.5" font-weight="normal" textLength="86.62" lengthAdjust="spacingAndGlyphs" fill="#000">UKMET</text><text x="198.75" y="918.00" font-size="25.5" font-weight="normal" textLength="49.97" lengthAdjust="spacingAndGlyphs" fill="#000">data</text><text x="257.18" y="918.00" font-size="25.5" font-weight="normal" textLength="17.87" lengthAdjust="spacingAndGlyphs" fill="#000">is</text><text x="280.84" y="918.00" font-size="25.5" font-weight="normal" textLength="130.45" lengthAdjust="spacingAndGlyphs" fill="#000">unavailable</text><text x="418.07" y="918.00" font-size="25.5" font-weight="normal" textLength="32.37" lengthAdjust="spacingAndGlyphs" fill="#000">for</text><text x="458.27" y="918.00" font-size="25.5" font-weight="normal" textLength="41.87" lengthAdjust="spacingAndGlyphs" fill="#000">this</text><text x="506.06" y="918.00" font-size="25.5" font-weight="normal" textLength="62.43" lengthAdjust="spacingAndGlyphs" fill="#000">cycle</text><text x="574.50" y="918.00" font-size="25.5" font-weight="normal" textLength="22.27" lengthAdjust="spacingAndGlyphs" fill="#000">at</text><text x="605.02" y="918.00" font-size="25.5" font-weight="normal" textLength="40.63" lengthAdjust="spacingAndGlyphs" fill="#000">this</text><text x="653.58" y="918.00" font-size="25.5" font-weight="normal" textLength="59.20" lengthAdjust="spacingAndGlyphs" fill="#000">time.</text>
<g opacity="0.84"><text x="1227.99" y="898.60" font-size="23.6" font-weight="bold" textLength="42.73" lengthAdjust="spacingAndGlyphs" fill="none" stroke="#fff" stroke-width="8.0" stroke-linejoin="round" stroke-opacity="1">Plot</text><text x="1278.13" y="898.60" font-size="23.6" font-weight="bold" textLength="27.15" lengthAdjust="spacingAndGlyphs" fill="none" stroke="#fff" stroke-width="8.0" stroke-linejoin="round" stroke-opacity="1">by</text><text x="1313.07" y="898.60" font-size="23.6" font-weight="bold" textLength="68.80" lengthAdjust="spacingAndGlyphs" fill="none" stroke="#fff" stroke-width="8.0" stroke-linejoin="round" stroke-opacity="1">Tomer</text><text x="1391.29" y="898.60" font-size="23.6" font-weight="bold" textLength="52.11" lengthAdjust="spacingAndGlyphs" fill="none" stroke="#fff" stroke-width="8.0" stroke-linejoin="round" stroke-opacity="1">Burg</text><text x="1124.14" y="926.60" font-size="23.6" font-weight="bold" textLength="208.91" lengthAdjust="spacingAndGlyphs" fill="none" stroke="#fff" stroke-width="8.0" stroke-linejoin="round" stroke-opacity="1">www.polarwx.com</text><text x="1332.19" y="926.60" font-size="23.6" font-weight="bold" textLength="110.00" lengthAdjust="spacingAndGlyphs" fill="none" stroke="#fff" stroke-width="8.0" stroke-linejoin="round" stroke-opacity="1">/tropical/</text><text x="1227.99" y="898.60" font-size="23.6" font-weight="bold" textLength="42.73" lengthAdjust="spacingAndGlyphs" fill="#000">Plot</text><text x="1278.13" y="898.60" font-size="23.6" font-weight="bold" textLength="27.15" lengthAdjust="spacingAndGlyphs" fill="#000">by</text><text x="1313.07" y="898.60" font-size="23.6" font-weight="bold" textLength="68.80" lengthAdjust="spacingAndGlyphs" fill="#000">Tomer</text><text x="1391.29" y="898.60" font-size="23.6" font-weight="bold" textLength="52.11" lengthAdjust="spacingAndGlyphs" fill="#000">Burg</text><text x="1124.14" y="926.60" font-size="23.6" font-weight="bold" textLength="208.91" lengthAdjust="spacingAndGlyphs" fill="#000">www.polarwx.com</text><text x="1332.19" y="926.60" font-size="23.6" font-weight="bold" textLength="110.00" lengthAdjust="spacingAndGlyphs" fill="#000">/tropical/</text></g>
</g>
</svg>
</body></html>
